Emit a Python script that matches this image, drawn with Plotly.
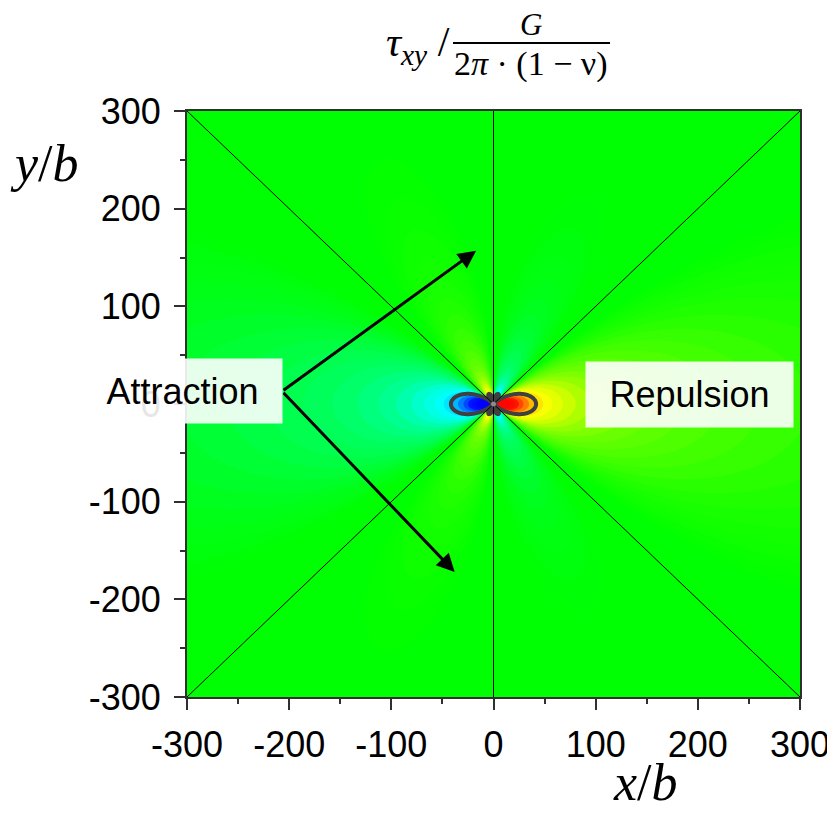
import numpy as np
import plotly.graph_objects as go

# ---------------- data ----------------
x_range = [-300, 300]
y_range = [-300, 300]
x_ticks = [-300, -200, -100, 0, 100, 200, 300]
y_ticks = [-300, -200, -100, 0, 100, 200, 300]
x_tick_labels = ["-300", "-200", "-100", "0", "100", "200", "300"]
y_tick_labels = ["-300", "-200", "-100", "0", "100", "200", "300"]

# Edge dislocation shear stress field tau_xy / (G / (2 pi (1-nu))) = x (x^2 - y^2) / (x^2 + y^2)^2
grid_coarse = np.linspace(-300, 300, 201)
grid_fine = np.linspace(-50, 50, 201)
grid = np.unique(np.round(np.concatenate([grid_coarse, grid_fine]), 3))
X, Y = np.meshgrid(grid, grid)
R2 = X**2 + Y**2
R2[R2 == 0] = 1.0
tau = X * (X**2 - Y**2) / R2**2

tau_floor = 0.001      # |tau| below this shows as pure green
tau_ceiling = 1 / 15.0 # |tau| above this is saturated
lobe_level = 0.024     # thick outline level

t = np.sign(tau) * np.clip(np.log10(np.maximum(np.abs(tau), 1e-12) / tau_floor)
                           / np.log10(tau_ceiling / tau_floor), 0, 1)
t = np.round(t, 4)

# colour stops on the positive half (mirrored for negative)
pos_stops = [0.0, 0.2, 0.29, 0.45, 0.55, 0.63, 0.71, 0.77, 0.80, 0.90, 1.0]
pos_cols = [(0, 255, 0), (25, 255, 0), (50, 255, 0), (100, 255, 0), (150, 255, 0),
            (210, 255, 0), (255, 255, 0), (255, 200, 0), (255, 150, 0),
            (255, 20, 0), (255, 0, 0)]

cs = []
for s, c in zip(pos_stops[::-1], pos_cols[::-1]):
    cs.append([(1 - s) / 2, "rgb(0,%d,%d)" % (c[1], c[0])])
for s, c in zip(pos_stops[1:], pos_cols[1:]):
    cs.append([(1 + s) / 2, "rgb(%d,%d,%d)" % c])

diag1_x, diag1_y = [-300, 300], [-300, 300]
diag2_x, diag2_y = [-300, 300], [300, -300]
vline_x, vline_y = [0, 0], [-300, 300]

arrow_start = (-207, 13)
arrow_heads = [(-17, 157), (-38, -172)]

# ---------------- layout helpers ----------------
OFF = 8  # page body margin
W, H = 835 - OFF, 816 - OFF
L, T = 187 - OFF, 111 - OFF
Rm = W - (800 - OFF)
B = H - (697 - OFF)
PW, PH = W - L - Rm, H - T - B


def px(xp):
    return (xp - OFF - L) / PW


def py(yp):
    return 1 - (yp - OFF - T) / PH


fig = go.Figure()

fig.add_trace(go.Contour(
    x=grid, y=grid, z=t, zmin=-1, zmax=1, colorscale=cs,
    autocontour=False,
    contours=dict(start=-1, end=1, size=0.04, coloring="fill", showlines=False),
    line=dict(width=0), showscale=False, hoverinfo="skip"))

for xs, ys in [(diag1_x, diag1_y), (diag2_x, diag2_y), (vline_x, vline_y)]:
    fig.add_trace(go.Scatter(x=xs, y=ys, mode="lines",
                             line=dict(color="black", width=1),
                             showlegend=False, hoverinfo="skip"))

fig.add_trace(go.Contour(
    x=grid, y=grid, z=np.round(np.clip(tau, -1, 1), 5),
    autocontour=False,
    contours=dict(start=-lobe_level, end=lobe_level, size=2 * lobe_level,
                  coloring="none", showlines=True),
    line=dict(width=4, color="#404040"), showscale=False, hoverinfo="skip"))

fig.add_trace(go.Scatter(x=[0], y=[0], mode="markers",
                         marker=dict(size=5, color="#8c8c8c"),
                         showlegend=False, hoverinfo="skip"))

axis_common = dict(
    showgrid=False, zeroline=False, showline=True, linewidth=2,
    linecolor="#303030", mirror=True, ticks="outside", ticklen=11,
    tickwidth=2, tickcolor="#303030", automargin=False,
    tickfont=dict(family="Arial, Liberation Sans", size=36, color="black"),
    tickmode="array",
    minor=dict(ticks="outside", ticklen=5, tickwidth=2, tickcolor="#303030",
               dtick=50, tick0=-300, showgrid=False),
)

fig.update_layout(
    width=W, height=H, margin=dict(l=L, r=Rm, t=T, b=B, autoexpand=False),
    paper_bgcolor="white", plot_bgcolor="white", showlegend=False,
    xaxis=dict(range=x_range, tickvals=x_ticks, ticktext=x_tick_labels,
               ticklabelstandoff=4, **axis_common),
    yaxis=dict(range=y_range, tickvals=y_ticks, ticktext=y_tick_labels,
               ticklabelstandoff=6, **axis_common),
)

ann = []
# arrows
for hx, hy in arrow_heads:
    ann.append(dict(x=hx, y=hy, ax=arrow_start[0], ay=arrow_start[1],
                    xref="x", yref="y", axref="x", ayref="y", text="",
                    showarrow=True, arrowhead=2, arrowsize=1.2, arrowwidth=3,
                    arrowcolor="black"))

box_font = dict(family="Arial, Liberation Sans", size=36, color="black")
ann.append(dict(x=px(182.5), y=py(391), xref="paper", yref="paper",
                text="Attraction", showarrow=False, font=box_font,
                bgcolor="rgba(255,255,255,0.9)", width=199, height=64,
                borderpad=0, xanchor="center", yanchor="middle"))
ann.append(dict(x=px(689.5), y=py(394.5), xref="paper", yref="paper",
                text="Repulsion", showarrow=False, font=box_font,
                bgcolor="rgba(255,255,255,0.9)", width=207, height=65,
                borderpad=0, xanchor="center", yanchor="middle"))

serif = "Liberation Serif, DejaVu Serif, serif"
# axis titles
ann.append(dict(x=px(44), y=py(163), xref="paper", yref="paper",
                text="<i>y</i>/<i>b</i>", showarrow=False,
                font=dict(family=serif, size=52, color="black"),
                xanchor="center", yanchor="middle"))
ann.append(dict(x=px(645), y=py(782), xref="paper", yref="paper",
                text="<i>x</i>/<i>b</i>", showarrow=False,
                font=dict(family=serif, size=52, color="black"),
                xanchor="center", yanchor="middle"))
# title
tfont = dict(family=serif, size=34, color="black")
ann.append(dict(x=px(452), y=py(45), xref="paper", yref="paper",
                text="<i>τ</i><sub><i>xy</i></sub> /", showarrow=False,
                font=dict(family=serif, size=42, color="black"),
                xanchor="right", yanchor="middle"))
ann.append(dict(x=px(531), y=py(24), xref="paper", yref="paper",
                text="<i>G</i>", showarrow=False,
                font=dict(family=serif, size=31, color="black"),
                xanchor="center", yanchor="middle"))
ann.append(dict(x=px(531), y=py(64), xref="paper", yref="paper",
                text="2<i>π</i> · (1 − ν)", showarrow=False, font=tfont,
                xanchor="center", yanchor="middle"))
fig.update_layout(annotations=ann)

fig.add_shape(type="line", xref="paper", yref="paper",
              x0=px(453), x1=px(610), y0=py(43), y1=py(43),
              line=dict(color="black", width=2))

fig.write_html("out.html")
